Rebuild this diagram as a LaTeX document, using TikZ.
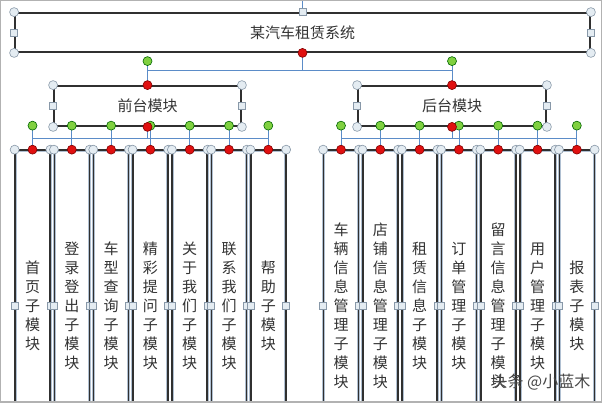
\documentclass[tikz,border=0pt]{standalone}
\usepackage{fontspec}
\newfontfamily\cjk{Noto Sans CJK SC}

% colours of the editor view
\definecolor{boxline}{RGB}{48,48,48}
\definecolor{halo}{RGB}{176,192,210}
\definecolor{txt}{RGB}{51,51,51}
\definecolor{linkblue}{RGB}{91,140,200}
\definecolor{hdlline}{RGB}{136,152,168}
\definecolor{hdlfill}{RGB}{228,236,242}
\definecolor{hdlred}{RGB}{224,16,16}
\definecolor{hdlgreen}{RGB}{128,208,64}

\tikzset{
  modbox/.style={draw=boxline, line width=1.8pt, inner sep=0pt,
    font=\cjk\fontsize{15}{15}\selectfont, text=txt},
  leafbox/.style={draw=halo, double=boxline, double distance=1.6pt, line width=0.7pt,
    minimum width=35, minimum height=312, inner sep=0pt, align=center,
    font=\cjk\fontsize{15}{19}\selectfont, text=txt},
  link/.style={draw=linkblue, line width=0.8pt},
  hc/.style={draw=hdlline, fill=hdlfill, line width=0.6pt},
  hr/.style={draw=red!50!black, fill=hdlred, line width=0.6pt},
  hg/.style={draw=green!40!black, fill=hdlgreen, line width=0.6pt},
}
\newcommand\hcirc[1]{\filldraw[hc] (#1) circle (4.5);}
\newcommand\hsq[1]{\filldraw[hc] ([shift={(-3.5,-3.5)}]#1) rectangle ++(7,7);}
\newcommand\hred[1]{\filldraw[hr] (#1) circle (4.5);}
\newcommand\hgreen[1]{\filldraw[hg] ([yshift=24pt]#1) circle (4.5);}

\begin{document}
\begin{tikzpicture}[x=1pt, y=-1pt]
  \useasboundingbox (0,0) rectangle (602,402);
  \clip (0,0) rectangle (602,402);
  \fill[white] (0,0) rectangle (602,402);

  % main boxes
  \node[modbox, minimum width=575, minimum height=39] (sys) at (302.5,32.5) {某汽车租赁系统};
  \node[modbox, minimum width=187, minimum height=40] (front) at (147.5,106) {前台模块};
  \node[modbox, minimum width=188, minimum height=40] (back) at (452,106) {后台模块};

  % leaf modules
  \foreach \txt [count=\i from 0] in {首\\页\\子\\模\\块, 登\\录\\登\\出\\子\\模\\块,
      车\\型\\查\\询\\子\\模\\块, 精\\彩\\提\\问\\子\\模\\块, 关\\于\\我\\们\\子\\模\\块,
      联\\系\\我\\们\\子\\模\\块, 帮\\助\\子\\模\\块}
    \node[leafbox] (fl\i) at ({32.5+39.3*\i},306) {\txt};
  \foreach \txt [count=\i from 0] in {车\\辆\\信\\息\\管\\理\\子\\模\\块, 店\\铺\\信\\息\\管\\理\\子\\模\\块,
      租\\赁\\信\\息\\子\\模\\块, 订\\单\\管\\理\\子\\模\\块, 留\\言\\信\\息\\管\\理\\子\\模\\块,
      用\\户\\管\\理\\子\\模\\块, 报\\表\\子\\模\\块}
    \node[leafbox] (bl\i) at ({341+39.3*\i},306) {\txt};

  % connectors
  \draw[link] (sys.north) -- ++(0,-14);
  \draw[link] (sys.south) -- ++(0,17) -| (front.north);
  \draw[link] (sys.south) -- ++(0,17) -| (back.north);
  \draw[link] ([yshift=24pt]front.north) -- (front.north);
  \draw[link] ([yshift=24pt]back.north) -- (back.north);
  \foreach \i in {0,...,6} {
    \draw[link] (front.south) -- ++(0,11) -| (fl\i.north);
    \draw[link] (back.south) -- ++(0,11) -| (bl\i.north);
    \draw[link] ([yshift=24pt]fl\i.north) -- (fl\i.north);
    \draw[link] ([yshift=24pt]bl\i.north) -- (bl\i.north);
  }

  % selection handles
  \foreach \n in {sys, front, back} {
    \hcirc{\n.north west} \hcirc{\n.north east}
    \hcirc{\n.south west} \hcirc{\n.south east}
    \hsq{\n.west} \hsq{\n.east}
  }
  \hsq{sys.north}
  \hred{sys.south}
  \foreach \n in {front, back} {
    \hgreen{\n.north}
    \hred{\n.north}
  }
  \foreach \i in {0,...,6} {
    \foreach \n in {fl\i, bl\i} {
      \hgreen{\n.north}
      \hcirc{\n.north west} \hcirc{\n.north east}
      \hsq{\n.west} \hsq{\n.east}
      \hred{\n.north}
    }
  }
  \hred{front.south}
  \hred{back.south}

  % watermark
  \node[font=\cjk\fontsize{16}{16}\selectfont, text=gray!55!black] (mark) at (541,382) {头条 @小蓝木};

  % window frame
  \draw[gray!60, line width=1.5pt] (0,0) rectangle (602,402);
\end{tikzpicture}
\end{document}
